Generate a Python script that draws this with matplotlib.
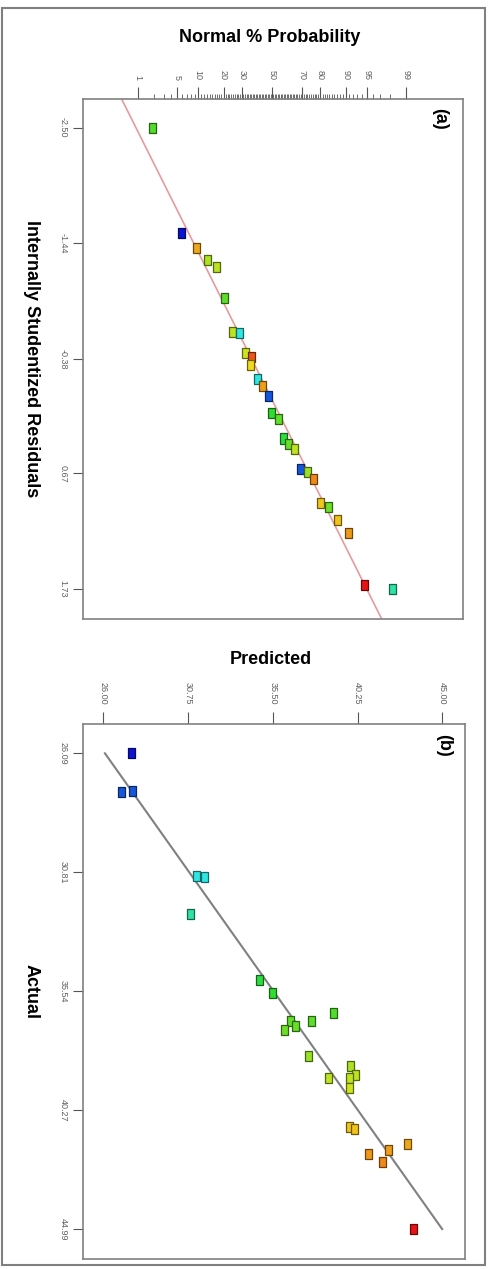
import matplotlib
matplotlib.use("Agg")
import matplotlib.pyplot as plt
from matplotlib.colors import LinearSegmentedColormap, Normalize
from matplotlib.patches import Rectangle
from statistics import NormalDist
import numpy as np

plt.rcParams['font.family'] = ['Liberation Sans', 'DejaVu Sans']

# (a) normal probability plot of residuals
prob_pct = [1.9, 5.8, 9.6, 13.2, 16.9, 20.7, 24.5, 28.5, 32.0, 36.4, 35.6, 39.9, 43.6, 47.4,
            50.0, 54.4, 57.6, 61.4, 65.5, 68.8, 73.2, 76.5, 79.9, 83.6, 87.3, 90.9, 94.5, 98.2]
residuals = [-2.50, -1.53, -1.40, -1.29, -1.22, -0.94, -0.63, -0.62, -0.43, -0.40, -0.32, -0.20,
             -0.13, -0.04, 0.12, 0.17, 0.35, 0.40, 0.45, 0.63, 0.66, 0.72, 0.94, 0.98, 1.10,
             1.22, 1.69, 1.73]
run_response = [36.40, 26.12, 41.62, 38.50, 38.88, 36.71, 38.98, 31.00, 39.38, 43.50, 40.50,
                30.96, 41.85, 27.58, 35.60, 36.73, 35.10, 36.92, 39.00, 27.63, 38.10, 42.33,
                40.93, 37.08, 41.03, 42.01, 44.99, 32.46]
prob_ticks = [1, 5, 10, 20, 30, 50, 70, 80, 90, 95, 99]
prob_minor = [2, 3, 4, 6, 7, 8, 9] + list(range(11, 90)) + [91, 92, 93, 94, 96, 97, 98]
resid_ticks = [-2.50, -1.44, -0.38, 0.67, 1.73]
line_slope, line_intercept = 0.947, 0.006   # z = slope * residual + intercept

# (b) predicted vs actual
predicted = [27.59, 27.03, 27.63, 31.20, 31.68, 30.86, 34.73, 35.50, 36.47, 36.15, 36.78, 37.68,
             38.89, 37.49, 38.61, 39.87, 40.15, 39.79, 39.79, 39.79, 40.05, 40.88, 42.00, 41.66,
             43.04, 43.38]
actual = [26.09, 27.63, 27.58, 30.96, 31.00, 32.46, 35.10, 35.60, 36.73, 37.08, 36.92, 36.71,
          36.40, 38.10, 39.00, 38.50, 38.88, 38.98, 39.38, 40.93, 41.03, 42.01, 41.85, 42.33,
          41.62, 44.99]
pred_ticks = [26.00, 30.75, 35.50, 40.25, 45.00]
act_ticks = [26.09, 30.81, 35.54, 40.27, 44.99]

W, H = 494, 1269
fig = plt.figure(figsize=(W / 100, H / 100), dpi=100)


def box(left, top, right, bottom):
    return [left / W, 1 - bottom / H, (right - left) / W, (bottom - top) / H]


def fpos(x, y):
    return x / W, 1 - y / H


cmap = LinearSegmentedColormap.from_list(
    "de", ['#0a14d2', '#30e6e6', '#2edc2e', '#f2e61e', '#e61414'])
norm = Normalize(vmin=min(actual), vmax=max(actual))
rect = [(-0.35, -0.5), (0.35, -0.5), (0.35, 0.5), (-0.35, 0.5), (-0.35, -0.5)]


def colors_for(vals):
    fc = cmap(norm(np.array(vals)))
    ec = fc.copy()
    ec[:, :3] *= 0.45
    return fc, ec


def style_axes(ax):
    for s in ax.spines.values():
        s.set_color('#808080')
        s.set_linewidth(1.2)
    ax.xaxis.tick_top()
    ax.tick_params(axis='both', which='major', width=0.8, color='#555555',
                   labelsize=6.5, labelcolor='#606060')
    ax.tick_params(axis='x', which='major', length=9, pad=5)
    ax.tick_params(axis='y', which='major', length=7, pad=4)
    ax.tick_params(axis='x', which='minor', length=3.5, width=0.6, color='#555555')
    for lab in ax.get_xticklabels():
        lab.set_rotation(-90)
    for lab in ax.get_yticklabels():
        lab.set_rotation(-90)
        lab.set_va('center')


# ---- panel (a)
nd = NormalDist()
ax1 = fig.add_axes(box(82.7, 99, 463, 619))
z = [nd.inv_cdf(p / 100) for p in prob_pct]
r_lim = (2.005, -2.763)
rl = np.array(r_lim)
ax1.plot(line_slope * rl + line_intercept, rl, color='#e89a9a', lw=1.2, zorder=1)
fc, ec = colors_for(run_response)
ax1.scatter(z, residuals, marker=rect, s=52, c=fc, edgecolors=ec, linewidths=0.9, zorder=3)
ax1.set_xlim(-3.286, 3.316)
ax1.set_ylim(*r_lim)
ax1.set_xticks([nd.inv_cdf(p / 100) for p in prob_ticks])
ax1.set_xticklabels([str(p) for p in prob_ticks])
ax1.set_xticks([nd.inv_cdf(p / 100) for p in prob_minor], minor=True)
ax1.set_yticks(resid_ticks)
ax1.set_yticklabels([f"{v:.2f}" for v in resid_ticks])
style_axes(ax1)

# ---- panel (b)
ax2 = fig.add_axes(box(82.7, 724, 465, 1259))
ax2.plot([min(actual), max(actual)], [min(actual), max(actual)], color='#808080', lw=1.5, zorder=1)
fc, ec = colors_for(actual)
ax2.scatter(predicted, actual, marker=rect, s=52, c=fc, edgecolors=ec, linewidths=0.9, zorder=3)
ax2.set_xlim(24.845, 46.27)
ax2.set_ylim(46.18, 24.926)
ax2.set_xticks(pred_ticks)
ax2.set_xticklabels([f"{v:.2f}" for v in pred_ticks])
ax2.set_yticks(act_ticks)
ax2.set_yticklabels([f"{v:.2f}" for v in act_ticks])
style_axes(ax2)

# labels
fig.text(*fpos(270, 38), "Normal % Probability", fontsize=13, fontweight='bold',
         ha='center', va='center')
fig.text(*fpos(31, 359), "Internally Studentized Residuals", fontsize=13, fontweight='bold',
         rotation=-90, ha='center', va='center')
fig.text(*fpos(440, 119), "(a)", fontsize=13, fontweight='bold', rotation=-90,
         ha='center', va='center')
fig.text(*fpos(271, 659), "Predicted", fontsize=13, fontweight='bold', ha='center', va='center')
fig.text(*fpos(31, 991), "Actual", fontsize=13, fontweight='bold', rotation=-90,
         ha='center', va='center')
fig.text(*fpos(444, 745), "(b)", fontsize=13, fontweight='bold', rotation=-90,
         ha='center', va='center')

# outer frame
fig.add_artist(Rectangle(fpos(1.5, 1265), 483 / W, 1257 / H, transform=fig.transFigure,
                         fill=False, edgecolor='#808080', lw=1.5))

fig.savefig("out.png", dpi=100)
